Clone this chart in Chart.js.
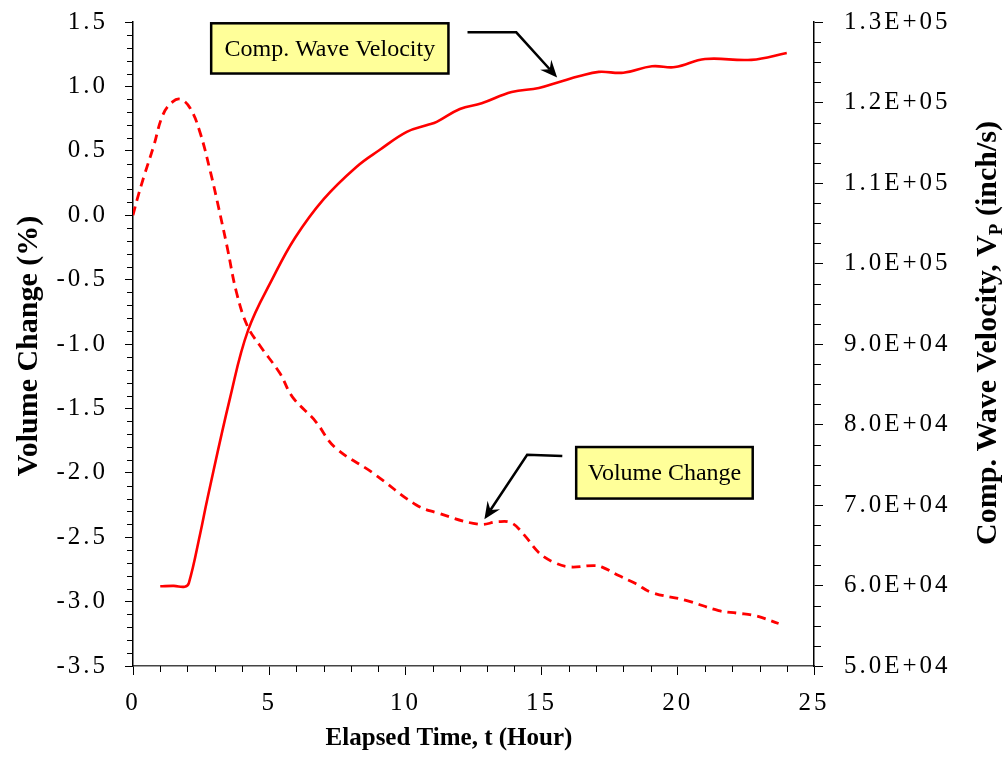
<!DOCTYPE html>
<html>
<head>
<meta charset="utf-8">
<script src="https://cdn.jsdelivr.net/npm/chart.js@4.4.1/dist/chart.umd.min.js"></script>
<style>
  html, body { margin: 0; padding: 0; background: #fff; }
</style>
</head>
<body>
<canvas id="chart" width="1007" height="766"></canvas>
<script>
// Volume change (%) against elapsed time (hours)
const volTime = [0, 0.15, 0.4, 0.75, 1.1, 1.45, 1.75, 2.1, 2.45, 2.85, 3.1, 3.45, 3.8, 4.2, 4.65, 5.4, 5.85, 6.7, 7.4, 8.8, 10.4, 11.15, 12.7, 13.4, 13.9, 14.35, 14.9, 15.4, 16.0, 16.9, 17.2, 17.85, 18.45, 19.05, 20.3, 21.5, 22.2, 22.85, 23.7];
const volChange = [0.00, 0.12, 0.30, 0.53, 0.78, 0.88, 0.90, 0.83, 0.65, 0.33, 0.10, -0.24, -0.60, -0.86, -1.01, -1.23, -1.41, -1.60, -1.80, -2.00, -2.25, -2.31, -2.40, -2.38, -2.39, -2.48, -2.62, -2.69, -2.73, -2.72, -2.73, -2.80, -2.86, -2.93, -2.99, -3.07, -3.09, -3.11, -3.17];

// Compression wave velocity (inch/s) against elapsed time (hours)
const velTime = [1.0, 1.5, 1.9, 2.05, 2.47, 2.72, 3.57, 4.23, 5.15, 5.95, 7.0, 8.2, 9.05, 10.05, 10.8, 11.15, 12.0, 12.8, 13.9, 14.9, 15.65, 16.4, 17.1, 18.0, 19.05, 19.9, 21.0, 22.7, 24.0];
const velocity = [59900, 59950, 59850, 60300, 66500, 70600, 83400, 91750, 98300, 103200, 108000, 112000, 114100, 116350, 117200, 117600, 119200, 119900, 121300, 121800, 122550, 123300, 123800, 123700, 124500, 124400, 125400, 125300, 126150];

// Tick values
const xTickValues = [0, 5, 10, 15, 20, 25];
const volTickValues = [-3.5, -3.0, -2.5, -2.0, -1.5, -1.0, -0.5, 0.0, 0.5, 1.0, 1.5];
const velTickValues = [50000, 60000, 70000, 80000, 90000, 100000, 110000, 120000, 130000];

// Callout boxes, in hours / volume-change units
const callouts = [
    { text: 'Comp. Wave Velocity', box: [2.87, 1.49, 11.58, 1.10], path: [[12.28, 1.42], [14.07, 1.42], [15.57, 1.07]] },
    { text: 'Volume Change', box: [16.27, -1.80, 22.75, -2.20], path: [[15.76, -1.87], [14.47, -1.86], [12.9, -2.36]] }
];

const SERIF = '"Liberation Serif", "Times New Roman", serif';
Chart.defaults.font.family = SERIF;
Chart.defaults.color = '#000';

function sciLabel(v) {
    const [m, e] = v.toExponential(1).split('e');
    const n = parseInt(e, 10);
    return m + 'E' + (n < 0 ? '-' : '+') + String(Math.abs(n)).padStart(2, '0');
}

function setTicks(values) {
    return scale => { scale.ticks = values.map(v => ({ value: v })); };
}

// fixed axis box sizes, no extra room for overhanging labels
function fixSize(w, h) {
    return s => {
        if (w !== null) s.width = w;
        if (h !== null) s.height = h;
        s.paddingTop = 0;
        s.paddingBottom = 0;
        s.paddingLeft = 0;
        s.paddingRight = 0;
    };
}

const tickFont = { family: SERIF, size: 25 };

function drawArrow(ctx, pts) {
    const n = pts.length;
    const [tx, ty] = pts[n - 1];
    const [px, py] = pts[n - 2];
    const ang = Math.atan2(ty - py, tx - px);
    const len = 17, half = 7.5, notch = 11;
    ctx.strokeStyle = '#000';
    ctx.lineWidth = 2.5;
    ctx.beginPath();
    ctx.moveTo(pts[0][0], pts[0][1]);
    for (let i = 1; i < n - 1; i++) ctx.lineTo(pts[i][0], pts[i][1]);
    ctx.lineTo(tx - Math.cos(ang) * notch, ty - Math.sin(ang) * notch);
    ctx.stroke();
    ctx.save();
    ctx.translate(tx, ty);
    ctx.rotate(ang);
    ctx.fillStyle = '#000';
    ctx.beginPath();
    ctx.moveTo(0, 0);
    ctx.lineTo(-len, -half);
    ctx.lineTo(-notch, 0);
    ctx.lineTo(-len, half);
    ctx.closePath();
    ctx.fill();
    ctx.restore();
}

const decorations = {
    id: 'decorations',
    beforeDraw(chart) {
        chart.ctx.letterSpacing = '3px';
    },
    afterDraw(chart) {
        const { ctx, chartArea: area, scales: { x, y, y1 } } = chart;
        ctx.save();
        ctx.letterSpacing = '0px';

        // minor ticks
        ctx.strokeStyle = '#000';
        ctx.lineWidth = 1;
        ctx.beginPath();
        for (let i = 1; i < 25; i++) {
            if (i % 5 === 0) continue;
            const px = Math.round(x.getPixelForValue(i)) + 0.5;
            ctx.moveTo(px, area.bottom);
            ctx.lineTo(px, area.bottom + 6);
        }
        for (let i = -35; i <= 15; i++) {
            if (i % 5 === 0) continue;
            const py = Math.round(y.getPixelForValue(i / 10)) + 0.5;
            ctx.moveTo(area.left - 6, py);
            ctx.lineTo(area.left, py);
        }
        for (let v = 52500; v < 130000; v += 2500) {
            if (v % 10000 === 0) continue;
            const py = Math.round(y1.getPixelForValue(v)) + 0.5;
            ctx.moveTo(area.right, py);
            ctx.lineTo(area.right + 7, py);
        }
        ctx.stroke();

        // callouts
        callouts.forEach(c => {
            const x0 = x.getPixelForValue(c.box[0]), y0 = y.getPixelForValue(c.box[1]);
            const x1 = x.getPixelForValue(c.box[2]), y1p = y.getPixelForValue(c.box[3]);
            ctx.fillStyle = '#ffff99';
            ctx.fillRect(x0, y0, x1 - x0, y1p - y0);
            ctx.strokeStyle = '#000';
            ctx.lineWidth = 2.5;
            ctx.strokeRect(x0, y0, x1 - x0, y1p - y0);
            ctx.fillStyle = '#000';
            ctx.font = '24px ' + SERIF;
            ctx.textAlign = 'center';
            ctx.textBaseline = 'middle';
            ctx.fillText(c.text, (x0 + x1) / 2, (y0 + y1p) / 2 + 1);
            drawArrow(ctx, c.path.map(p => [x.getPixelForValue(p[0]), y.getPixelForValue(p[1])]));
        });

        // axis titles
        ctx.fillStyle = '#000';
        ctx.textAlign = 'center';
        ctx.textBaseline = 'alphabetic';
        ctx.font = 'bold 25px ' + SERIF;
        ctx.fillText('Elapsed Time, t (Hour)', 449, 745);

        ctx.save();
        ctx.translate(29, 346);
        ctx.rotate(-Math.PI / 2);
        ctx.font = 'bold 30px ' + SERIF;
        ctx.textBaseline = 'middle';
        ctx.fillText('Volume Change (%)', 0, 0);
        ctx.restore();

        ctx.save();
        ctx.translate(986, 333);
        ctx.rotate(-Math.PI / 2);
        ctx.textAlign = 'left';
        ctx.textBaseline = 'alphabetic';
        const mainFont = 'bold 30px ' + SERIF, subFont = 'bold 19px ' + SERIF;
        const partA = 'Comp. Wave Velocity, V', partB = 'P', partC = ' (inch/s)';
        ctx.font = mainFont;
        const wA = ctx.measureText(partA).width, wC = ctx.measureText(partC).width;
        ctx.font = subFont;
        const wB = ctx.measureText(partB).width;
        let cx = -(wA + wB + wC) / 2;
        ctx.font = mainFont;
        ctx.fillText(partA, cx, 10);
        cx += wA;
        ctx.font = subFont;
        ctx.fillText(partB, cx, 16);
        cx += wB;
        ctx.font = mainFont;
        ctx.fillText(partC, cx, 10);
        ctx.restore();

        ctx.restore();
    }
};

new Chart(document.getElementById('chart'), {
    type: 'line',
    data: {
        datasets: [
            {
                label: 'Volume Change',
                data: volTime.map((t, i) => ({ x: t, y: volChange[i] })),
                yAxisID: 'y',
                borderColor: '#ff0000',
                borderWidth: 2.8,
                borderDash: [9, 6],
                pointRadius: 0,
                fill: false,
                tension: 0.4
            },
            {
                label: 'Comp. Wave Velocity',
                data: velTime.map((t, i) => ({ x: t, y: velocity[i] })),
                yAxisID: 'y1',
                borderColor: '#ff0000',
                borderWidth: 2.6,
                pointRadius: 0,
                fill: false,
                tension: 0.4
            }
        ]
    },
    options: {
        responsive: false,
        animation: false,
        layout: { padding: { top: 22, left: 0, right: 0, bottom: 0 } },
        plugins: { legend: { display: false }, tooltip: { enabled: false } },
        scales: {
            x: {
                type: 'linear',
                min: 0,
                max: 25,
                afterBuildTicks: setTicks(xTickValues),
                afterFit: fixSize(null, 100),
                ticks: { font: tickFont, color: '#000', padding: 13, maxRotation: 0, autoSkip: false, callback: v => String(v) },
                grid: { drawOnChartArea: false, tickLength: 9, tickColor: '#000', tickWidth: 1 },
                border: { color: '#444', width: 1.5 }
            },
            y: {
                position: 'left',
                min: -3.5,
                max: 1.5,
                afterBuildTicks: setTicks(volTickValues),
                afterFit: fixSize(133, null),
                ticks: { font: tickFont, color: '#000', padding: 17, autoSkip: false, callback: v => v.toFixed(1) },
                grid: { drawOnChartArea: false, tickLength: 8, tickColor: '#000', tickWidth: 1 },
                border: { color: '#000', width: 1.5 }
            },
            y1: {
                position: 'right',
                min: 50000,
                max: 130000,
                afterBuildTicks: setTicks(velTickValues),
                afterFit: fixSize(193, null),
                ticks: { font: tickFont, color: '#000', padding: 21, autoSkip: false, callback: sciLabel },
                grid: { drawOnChartArea: false, tickLength: 9, tickColor: '#000', tickWidth: 1 },
                border: { color: '#000', width: 1.5 }
            }
        }
    },
    plugins: [decorations]
});
</script>
</body>
</html>
